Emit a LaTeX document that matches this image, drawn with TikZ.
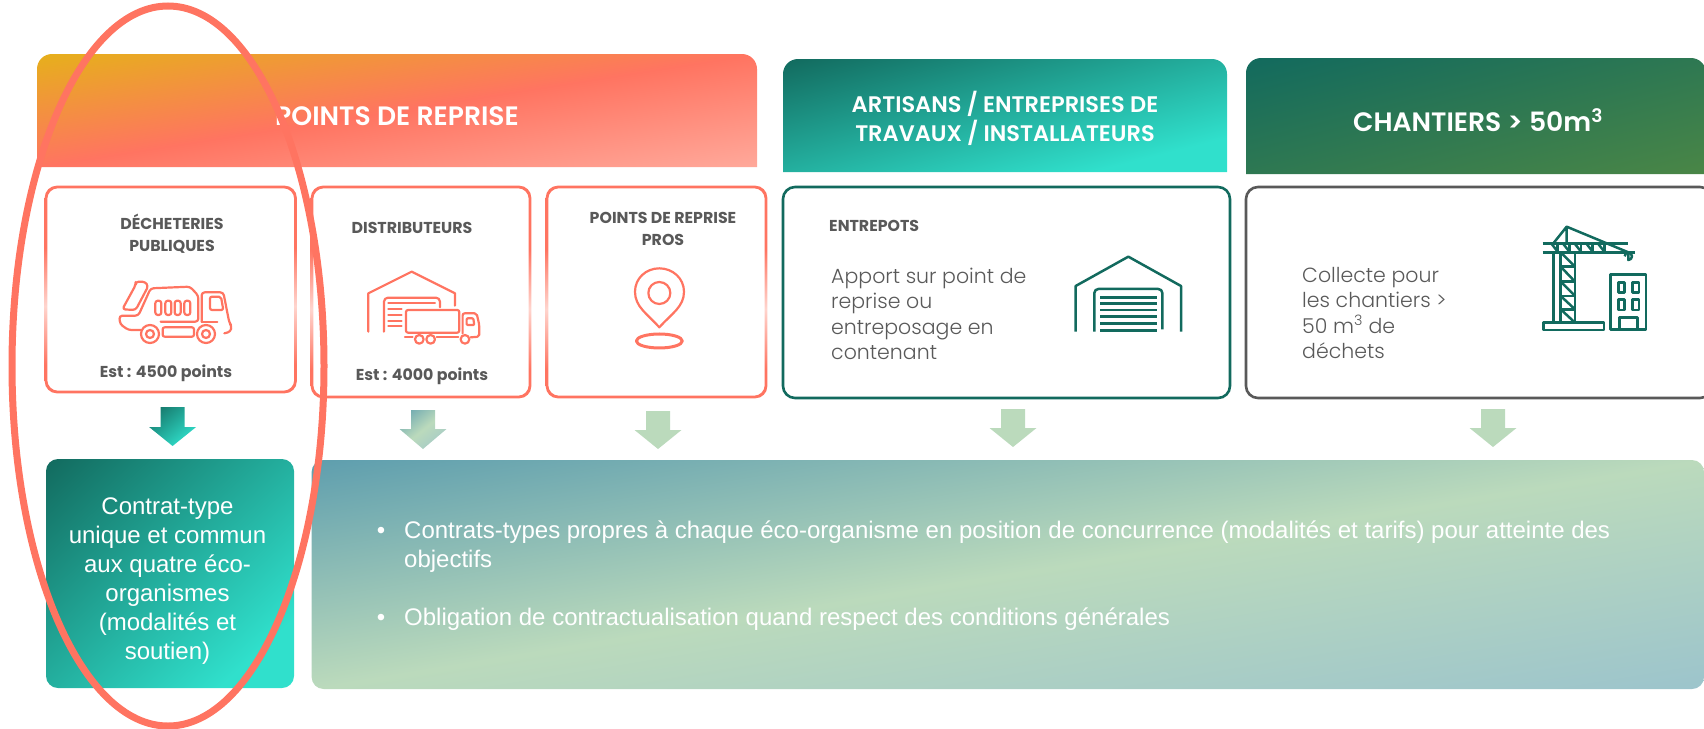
\documentclass[tikz,border=0pt]{standalone}
\usepackage{fontspec}
\setmainfont{Poppins}[BoldFont={* SemiBold}]
\newfontfamily\lightfont{Poppins Light}
\newfontfamily\heavyfont{Poppins}[UprightFont={* Bold}]
\newfontfamily\arialfont{Liberation Sans}
\definecolor{coral}{HTML}{FF7461}
\definecolor{coralfade}{HTML}{FFD5CE}
\definecolor{coralend}{HTML}{FFA99B}
\definecolor{amber}{HTML}{E6B01B}
\definecolor{deepteal}{HTML}{126A5E}
\definecolor{aqua}{HTML}{30E0CC}
\definecolor{forest}{HTML}{4A8646}
\definecolor{slate}{HTML}{5E9EAE}
\definecolor{sage}{HTML}{BBDABC}
\definecolor{mist}{HTML}{9CC4CC}
\definecolor{inkgray}{HTML}{595959}
\pgfdeclareverticalshading{gradcoral}{100bp}{color(0bp)=(coralend);color(14bp)=(coralend);color(50bp)=(coral);color(86bp)=(amber);color(100bp)=(amber)}
\pgfdeclareverticalshading{gradaqua}{100bp}{color(0bp)=(aqua);color(25bp)=(aqua);color(86bp)=(deepteal);color(100bp)=(deepteal)}
\pgfdeclareverticalshading{gradforest}{100bp}{color(0bp)=(forest);color(14bp)=(forest);color(86bp)=(deepteal);color(100bp)=(deepteal)}
\pgfdeclareverticalshading{gradsage}{100bp}{color(0bp)=(mist);color(14bp)=(mist);color(50bp)=(sage);color(86bp)=(slate);color(100bp)=(slate)}
\pgfdeclareverticalshading{gradedge}{100bp}{color(0bp)=(coral);color(32bp)=(coral);color(46bp)=(coralfade);color(60bp)=(coral);color(100bp)=(coral)}
\tikzset{
  x=1pt,y=-1pt,
  hdrtitle/.style={text=white,font=\bfseries\fontsize{26.6}{29}\selectfont,align=center,inner sep=0pt},
  hdrsmall/.style={text=white,font=\bfseries\fontsize{22.5}{29}\selectfont,align=center,inner sep=0pt},
  boxtitle/.style={text=inkgray,font=\heavyfont\fontsize{15.8}{21.5}\selectfont,align=center,inner sep=0pt},
  boxbody/.style={text=inkgray,font=\lightfont\fontsize{20.5}{25.4}\selectfont,align=left,inner sep=0pt},
  armtext/.style={text=white,font=\arialfont\fontsize{24}{29}\selectfont,inner sep=0pt},
  icon/.style={draw=coral,line width=2.2pt,line cap=round,line join=round},
  tealicon/.style={draw=deepteal,line width=2.5pt,line join=round},
}
% gradient whose colour bands run along the box diagonal: x1 y1 x2 y2 shading {clip path}
\newcommand{\diagfill}[6]{%
  \begin{scope}
    \clip #6;
    \pgfmathsetmacro{\gw}{abs(#3-#1)/72}
    \pgfmathsetmacro{\gh}{abs(#4-#2)/72}
    \pgfmathsetmacro{\gcx}{(#1+#3)/2}
    \pgfmathsetmacro{\gcy}{-(#2+#4)/2}
    \pgftransformcm{\gw}{\gh}{-\gw}{\gh}{\pgfpoint{\gcx pt}{\gcy pt}}
    \pgftext{\pgfuseshading{#5}}
  \end{scope}}
\newcommand{\headerband}[5]{% x1 y1 x2 y2 shading
  \diagfill{#1}{#2}{#3}{#4}{#5}{(#1,#4) [rounded corners=15pt] -- (#1,#2) -- (#3,#2) [sharp corners] -- (#3,#4) -- cycle}}
\newcommand{\coralcard}[4]{%
  \shade[shading=gradedge,even odd rule,rounded corners=12pt] (#1-1.3,#2-1.3) rectangle (#3+1.3,#4+1.3)
    [rounded corners=10.5pt] (#1+1.3,#2+1.3) rectangle (#3-1.3,#4-1.3);}
\newcommand{\blockarrow}[4]{% cx top shoulder tip
  (#1-12,#2) -- (#1+12,#2) -- (#1+12,#3) -- (#1+23.5,#3) -- (#1,#4) -- (#1-23.5,#3) -- (#1-12,#3) -- cycle}
\begin{document}
\begin{tikzpicture}
\useasboundingbox (0,0) rectangle (1704,728);
% header bands
\headerband{37}{54}{757}{167}{gradcoral}
\headerband{783}{59}{1227}{172}{gradaqua}
\headerband{1246}{58}{1706}{174}{gradforest}
\node[hdrtitle] (hdrA) at (397,116) {POINTS DE REPRISE};
\node[hdrsmall] (hdrB) at (1005,118.5) {ARTISANS / ENTREPRISES DE\\TRAVAUX / INSTALLATEURS};
\node[hdrtitle] (hdrC) at (1478,120) {CHANTIERS > 50m\textsuperscript{3}};
% cards
\coralcard{46}{187}{295.5}{392}
\coralcard{312}{187}{530}{397}
\coralcard{547}{187}{766}{397}
\draw[deepteal,line width=2.6pt,rounded corners=12pt] (783,187) rectangle (1230,398);
\draw[inkgray,line width=2.6pt,rounded corners=12pt] (1246,187) rectangle (1712,398);
% card texts
\node[boxtitle] (tA) at (172,233.5) {DÉCHETERIES\\PUBLIQUES};
\node[boxtitle] (tB) at (412,228) {DISTRIBUTEURS};
\node[boxtitle] (tC) at (663,229) {POINTS DE REPRISE\\PROS};
\node[boxtitle] (eA) at (166,373) {Est : 4500 points};
\node[boxtitle] (eB) at (422,376) {Est : 4000 points};
\node[boxtitle,anchor=west] (tD) at (829,226) {ENTREPOTS};
\node[boxbody,anchor=west] (bD) at (831,314) {Apport sur point de\\reprise ou\\entreposage en\\contenant};
\node[boxbody,anchor=west] (bE) at (1302,313) {Collecte pour\\les chantiers >\\50 m\textsuperscript{3} de\\déchets};
% garbage truck
\begin{scope}[shift={(90,250)},x=0.3333pt,y=-0.3333pt,icon]
  \draw[rounded corners=3pt] (97,178) -- (137,105) -- (137,95) -- (165,95) -- (175,108) -- (137,180) -- cycle;
  \draw[rounded corners=3pt] (152,240) -- (115,240) -- (90,222) -- (88,197) -- (145,197) -- (182,115) -- (300,110) -- (325,137) -- (325,215) -- (212,215);
  \draw[rounded corners=3pt] (335,215) -- (335,127) -- (400,127) -- (418,218) -- (425,228) -- (422,245) -- (403,250);
  \draw (335,215) -- (382,215);
  \draw[rounded corners=2pt] (360,140) -- (393,140) -- (400,180) -- (360,180) -- cycle;
  \draw (180,252) circle (27) (180,252) circle (12);
  \draw (348,252) circle (27) (348,252) circle (12);
  \draw[rounded corners=2pt] (218,232) rectangle (312,260);
  \foreach \px in {205,235,263,292} \draw[rounded corners=2.5pt] (\px-9,152) rectangle (\px+9,195);
\end{scope}
% warehouse with truck
\begin{scope}[shift={(90,250)},x=0.3333pt,y=-0.3333pt,icon]
  \draw (835,245) -- (835,130) -- (965,65) -- (1095,130) -- (1095,167);
  \draw[rounded corners=4pt] (882,245) -- (882,143) -- (1050,143) -- (1050,172);
  \draw (895,160) -- (1035,160);
  \foreach \py in {178,195,212,228} \draw (895,\py) -- (935,\py);
  \draw[rounded corners=2pt] (948,180) rectangle (1108,248);
  \draw (945,262) -- (968,262) (1040,262) -- (1105,262);
  \draw (988,268) circle (13) (1022,268) circle (13) (1125,268) circle (13);
  \draw[rounded corners=2pt] (1118,250) -- (1118,190) -- (1160,190) -- (1168,225) -- (1168,260) -- (1142,262);
  \draw[rounded corners=1pt] (1130,205) -- (1150,205) -- (1153,225) -- (1130,225) -- cycle;
\end{scope}
% map pin
\begin{scope}[shift={(610,250)},x=0.3333pt,y=-0.3333pt,icon]
  \draw (148,232) .. controls (110,190) and (75,170) .. (75,125) .. controls (75,85) and (108,55) .. (148,55) .. controls (188,55) and (222,85) .. (222,125) .. controls (222,170) and (186,190) .. (148,232) -- cycle;
  \draw (148,129) circle (33);
  \draw[line width=3pt] (148,273) ellipse (69 and 21);
\end{scope}
% garage
\begin{scope}[shift={(1040,210)},x=0.3333pt,y=-0.3333pt,tealicon]
  \draw (107,365) -- (107,228) -- (265,140) -- (423,228) -- (423,365);
  \draw[rounded corners=4pt] (163,365) -- (163,237) -- (367,237) -- (367,358);
  \foreach \py in {262,281,300,320,340,362} \draw (180,\py) -- (350,\py);
\end{scope}
% crane and building
\begin{scope}[shift={(1520,210)},x=0.3333pt,y=-0.3333pt,tealicon]
  \draw (70,338) rectangle (252,360);
  \draw (100,127) -- (100,338) (122,127) -- (122,338) (165,127) -- (165,338);
  \foreach \ya/\yb in {127/170,170/215,215/258,258/298,298/338} {\draw (122,\ya) -- (165,\yb); \draw (122,\yb) -- (165,\yb);}
  \draw (68,100) -- (325,100) (68,127) -- (345,127);
  \draw (100,100) -- (140,50) -- (325,127) (140,50) -- (140,100);
  \foreach \xa in {95,130,165,200,235} {\draw (\xa,102) -- (\xa+18,125); \draw (\xa+18,125) -- (\xa+18,102);}
  \draw (325,127) -- (325,150) arc (90:-180:11) ;
  \draw (272,193) rectangle (378,358);
  \draw (295,217) rectangle (313,247) (337,217) rectangle (357,247) (295,268) rectangle (313,300) (337,268) rectangle (357,300);
  \draw (298,358) -- (298,323) -- (352,323) -- (352,358);
\end{scope}
% block arrows
\diagfill{149}{407}{196}{446}{gradaqua}{\blockarrow{172.6}{407}{427}{446}}
\diagfill{399}{410}{447}{449}{gradsage}{\blockarrow{423}{410}{429}{449}}
\fill[sage] \blockarrow{658}{411}{430}{449};
\fill[sage] \blockarrow{1013}{409}{428}{447};
\fill[sage] \blockarrow{1493}{409}{428}{447};
% bottom panels
\diagfill{46}{459}{294}{688}{gradaqua}{[rounded corners=12pt] (46,459) rectangle (294,688)}
\diagfill{311.6}{460}{1704}{689}{gradsage}{[rounded corners=12pt] (311.6,460) rectangle (1704,689)}
\node[armtext,align=center] (cA) at (167.5,581) {Contrat-type\\unique et commun\\aux quatre éco-\\organismes\\(modalités et\\soutien)};
\node[armtext,anchor=base] (bulA) at (381,538) {•};
\node[armtext,anchor=base west] (cBa) at (404,538) {Contrats-types propres à chaque éco-organisme en position de concurrence (modalités et tarifs) pour atteinte des};
\node[armtext,anchor=base west] (cBb) at (404,567) {objectifs};
\node[armtext,anchor=base] (bulB) at (381,625) {•};
\node[armtext,anchor=base west] (cC) at (404,625) {Obligation de contractualisation quand respect des conditions générales};
% highlight ellipse
\draw[coral,line width=7pt] (168,366) ellipse (156 and 360);
\end{tikzpicture}
\end{document}
